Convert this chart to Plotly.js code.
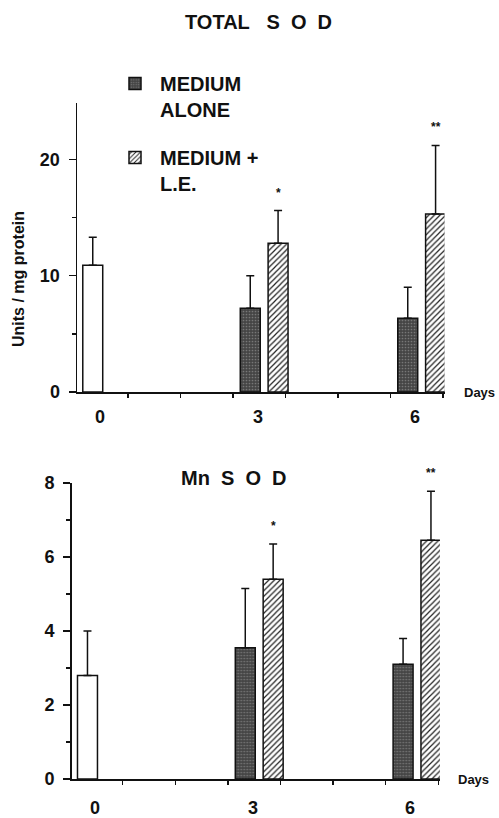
<!DOCTYPE html>
<html><head><meta charset="utf-8">
<script src="https://cdn.plot.ly/plotly-3.0.1.min.js"></script>
<style>html,body{margin:0;padding:0;background:#fff}#chart{width:499px;height:818px}</style>
</head><body><div id="chart"></div>
<script>
// ---- data ----
var baseDay = [0];
var treatDays = [3, 6];
var dayValues = [0, 3, 6];
var dayLabels = ['0', '3', '6'];
var sigLabels = ['*', '**'];
var seriesNames = ['MEDIUM<br>ALONE', 'MEDIUM +<br>L.E.'];

// Total SOD (Units / mg protein)
var totalBase = [10.9];
var totalBaseSD = [2.4];
var totalAlone = [7.2, 6.35];
var totalAloneSD = [2.8, 2.65];
var totalLE = [12.8, 15.3];
var totalLESD = [2.8, 5.9];

// Mn SOD
var mnBase = [2.8];
var mnBaseSD = [1.2];
var mnAlone = [3.55, 3.1];
var mnAloneSD = [1.6, 0.7];
var mnLE = [5.4, 6.45];
var mnLESD = [0.95, 1.33];

// ---- styling ----
var FONT = 'Liberation Sans, Arial, Helvetica, sans-serif';
var INK = '#111';
var BW = 0.38, LE_SHIFT = 0.53;
var W = 499, H = 818;

function errY(sd) {
  return {type: 'data', array: sd, arrayminus: sd.map(function () { return 0; }),
          symmetric: false, color: INK, thickness: 1.5, width: 4};
}

function panelTraces(xa, ya, base, baseSD, alone, aloneSD, le, leSD, legend) {
  return [
    {type: 'bar', x: baseDay, y: base, width: BW, offset: -BW / 2, xaxis: xa, yaxis: ya,
     marker: {color: '#fff', line: {color: INK, width: 1.5}},
     error_y: errY(baseSD), showlegend: false, hoverinfo: 'skip'},
    {type: 'bar', x: treatDays, y: alone, width: BW, offset: -BW / 2, xaxis: xa, yaxis: ya,
     name: seriesNames[0], legendgroup: 'a', showlegend: legend,
     marker: {color: '#4a4a4a', line: {color: INK, width: 1.5},
              pattern: {shape: '.', bgcolor: '#454545', fgcolor: '#777', size: 3, solidity: 0.25}},
     error_y: errY(aloneSD), hoverinfo: 'skip'},
    {type: 'bar', x: treatDays, y: le, width: BW, offset: LE_SHIFT - BW / 2, xaxis: xa, yaxis: ya,
     name: seriesNames[1], legendgroup: 'b', showlegend: legend,
     marker: {color: '#fff', line: {color: INK, width: 1.5},
              pattern: {shape: '/', bgcolor: '#fff', fgcolor: '#222', size: 4, solidity: 0.3}},
     error_y: errY(leSD), hoverinfo: 'skip'}
  ];
}

var traces = [].concat(
  panelTraces('x', 'y', totalBase, totalBaseSD, totalAlone, totalAloneSD, totalLE, totalLESD, true),
  panelTraces('x2', 'y2', mnBase, mnBaseSD, mnAlone, mnAloneSD, mnLE, mnLESD, false)
);

var tickPos = Array.from({length: 7}, function (_, i) { return i + 0.67; });

function xAxis(domain, anchor) {
  return {domain: domain, anchor: anchor, range: [-0.3, 6.7], showline: true, linecolor: INK, linewidth: 1.5,
          ticks: 'outside', tickvals: tickPos, ticklen: 4, tickwidth: 1.5, tickcolor: INK,
          showticklabels: false, showgrid: false, zeroline: false, fixedrange: true};
}
function yAxis(domain, anchor, range, dtick, minor, standoff) {
  return {domain: domain, anchor: anchor, range: range, showline: true, linecolor: INK, linewidth: 1.5,
          ticks: 'outside', ticklen: 7, tickwidth: 1.5, tickcolor: INK, tick0: 0, dtick: dtick,
          minor: {dtick: minor, ticks: 'outside', ticklen: 4, tickwidth: 1.5, tickcolor: INK},
          tickfont: {family: FONT, size: 18, color: INK, weight: 'bold'},
          ticklabelstandoff: standoff, showgrid: false, zeroline: false, fixedrange: true};
}

var annotations = [];
function bold(size) { return {family: FONT, size: size, color: INK, weight: 'bold'}; }

function panelAnn(xa, ya, le, leSD, labelShift, daysShift) {
  treatDays.forEach(function (d, i) {
    annotations.push({xref: xa, yref: ya, x: d + LE_SHIFT, y: le[i] + leSD[i], text: sigLabels[i],
                      showarrow: false, yanchor: 'bottom', yshift: 9, font: bold(12)});
  });
  dayValues.forEach(function (d, i) {
    annotations.push({xref: xa, yref: ya + ' domain', x: d + 0.14, y: 0, text: dayLabels[i],
                      showarrow: false, yanchor: 'middle', yshift: labelShift, font: bold(18)});
  });
  annotations.push({xref: xa + ' domain', yref: ya + ' domain', x: 1, y: 0, xanchor: 'left', xshift: daysShift,
                    text: 'Days', showarrow: false, yanchor: 'middle', font: bold(13)});
}
panelAnn('x', 'y', totalLE, totalLESD, -25, 17);
panelAnn('x2', 'y2', mnLE, mnLESD, -29, 16);

annotations.push({xref: 'paper', yref: 'paper', x: 258 / W, y: 1 - 22 / H, showarrow: false, xanchor: 'center',
                  text: 'TOTAL\u00a0\u00a0 S\u00a0 O\u00a0 D', font: bold(20), yanchor: 'middle'});
annotations.push({xref: 'paper', yref: 'paper', x: 234 / W, y: 1 - 478 / H, showarrow: false, xanchor: 'center',
                  text: 'Mn\u00a0 S\u00a0 O\u00a0 D', font: bold(20), yanchor: 'middle'});
annotations.push({xref: 'paper', yref: 'paper', x: 18 / W, y: 1 - 279 / H, showarrow: false,
                  xanchor: 'center', yanchor: 'middle',
                  text: 'Units / mg protein', textangle: -90, font: bold(16)});

var layout = {
  width: W, height: H, margin: {l: 0, r: 0, t: 0, b: 0},
  paper_bgcolor: '#fff', plot_bgcolor: 'rgba(0,0,0,0)',
  barmode: 'overlay', bargap: 0,
  font: {family: FONT, color: INK},
  xaxis: xAxis([77 / W, 444.5 / W], 'y'),
  yaxis: yAxis([1 - 392 / H, 1 - 103 / H], 'x', [0, 24.85], 10, 5, 5),
  xaxis2: xAxis([71.7 / W, 439.9 / W], 'y2'),
  yaxis2: yAxis([1 - 779 / H, 1 - 483 / H], 'x2', [0, 8], 2, 1, 5),
  showlegend: true,
  legend: {x: 110 / W, y: 1 - 64 / H, xanchor: 'left', yanchor: 'top', bgcolor: 'rgba(0,0,0,0)',
           font: bold(20), valign: 'top', tracegroupgap: 19, itemwidth: 40, traceorder: 'grouped'},
  annotations: annotations
};

Plotly.newPlot('chart', traces, layout, {displayModeBar: false, staticPlot: true});
</script></body></html>
